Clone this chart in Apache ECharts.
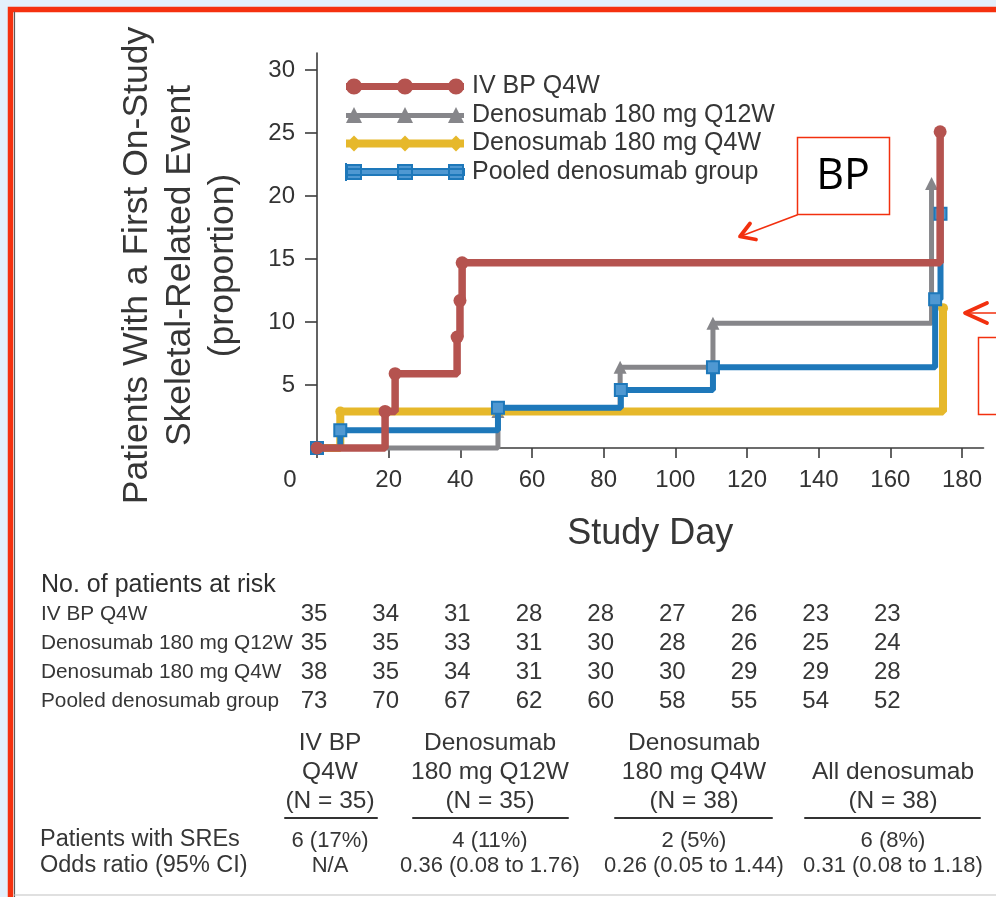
<!DOCTYPE html>
<html>
<head>
<meta charset="utf-8">
<script src="https://cdn.jsdelivr.net/npm/echarts@6/dist/echarts.min.js"></script>
<style>
  html, body { margin: 0; padding: 0; background: #ffffff; }
  #chart { width: 996px; height: 897px; }
</style>
</head>
<body>
<div id="chart"></div>
<script>
// ---- data ----
const seriesNames = ['IV BP Q4W', 'Denosumab 180 mg Q12W', 'Denosumab 180 mg Q4W', 'Pooled denosumab group'];

// cumulative proportion (%) with a first on-study SRE, as [study day, value]
const ivBpQ4w    = [[0, 0], [19, 2.9], [21.8, 5.9], [39.1, 8.8], [39.9, 11.7], [40.5, 14.7], [173.9, 25.1]];
const denoQ12w   = [[0, 0], [50.5, 2.9], [84.6, 6.4], [110.5, 9.9], [171.5, 21.0]];
const denoQ4w    = [[0, 0], [6.5, 2.9], [174.7, 11.1]];
const pooledDeno = [[0, 0], [6.5, 1.4], [50.5, 3.2], [84.8, 4.6], [110.5, 6.4], [172.5, 11.8], [174, 18.6]];

const xTicks = [0, 20, 40, 60, 80, 100, 120, 140, 160, 180];
const yTicks = [5, 10, 15, 20, 25, 30];

// patients at risk by study day
const atRiskDays   = [0, 20, 40, 60, 80, 100, 120, 140, 160];
const atRiskIvBp   = [35, 34, 31, 28, 28, 27, 26, 23, 23];
const atRiskQ12w   = [35, 35, 33, 31, 30, 28, 26, 25, 24];
const atRiskQ4w    = [38, 35, 34, 31, 30, 30, 29, 29, 28];
const atRiskPooled = [73, 70, 67, 62, 60, 58, 55, 54, 52];

// summary table
const groupHeads = [['IV BP', 'Q4W', '(N = 35)'], ['Denosumab', '180 mg Q12W', '(N = 35)'], ['Denosumab', '180 mg Q4W', '(N = 38)'], ['All denosumab', '(N = 38)']];
const sreCounts  = ['6 (17%)', '4 (11%)', '2 (5%)', '6 (8%)'];
const oddsRatios = ['N/A', '0.36 (0.08 to 1.76)', '0.26 (0.05 to 1.44)', '0.31 (0.08 to 1.18)'];

// ---- styling ----
const FONT = '"Liberation Sans", Arial, sans-serif';
const INK = '#363636';
const RED = '#b5534f', GRAY = '#86868a', YELLOW = '#e6b82b', BLUE = '#1e78ba';
const ANNOT = '#f2300f';

// legend glyphs: a band with three markers, 118 x 16
function circ(cx) { return 'M' + (cx - 8) + ',8A8,8 0 1,1 ' + (cx + 8) + ',8A8,8 0 1,1 ' + (cx - 8) + ',8Z'; }
function tri(x) { return 'M' + x + ',16L' + (x + 8) + ',0L' + (x + 16) + ',16Z'; }
function dia(x) { return 'M' + x + ',8L' + (x + 8) + ',0L' + (x + 16) + ',8L' + (x + 8) + ',16Z'; }
function sq(x) { return 'M' + (x + 1) + ',1H' + (x + 15) + 'V15H' + (x + 1) + 'Z'; }
const legendIcons = [
  'path://M0,4.5H118V11.5H0Z' + circ(8) + circ(59) + circ(110),
  'path://M0,6H118V11H0Z' + tri(0) + tri(51) + tri(102),
  'path://M0,4H118V12H0Z' + dia(0) + dia(51) + dia(102) + 'M0,0H0.01V16H0Z',
  'path://M0,5H118V11H0Z' + sq(0) + sq(51) + sq(102) + 'M0,0H0.01V16H0Z'
];

function stepSeries(name, data, color, width, symbol, size, z, item) {
  return {
    name: name, type: 'line', step: 'end', data: data, z: z, clip: false,
    showSymbol: true, symbol: symbol, symbolSize: size,
    lineStyle: { color: color, width: width },
    itemStyle: Object.assign({ color: color }, item || {}),
    emphasis: { disabled: true }
  };
}

const chart = echarts.init(document.getElementById('chart'), null, { renderer: 'canvas' });

const option = {
  animation: false,
  backgroundColor: '#ffffff',
  textStyle: { fontFamily: FONT },
  grid: { left: 317, top: 53, width: 666.5, height: 395, outerBoundsMode: 'none', containLabel: false },
  legend: {
    orient: 'vertical', left: 340, top: 69,
    itemWidth: 118, itemHeight: 16, itemGap: 3.5,
    selectedMode: false,
    data: seriesNames.map((n, i) => ({ name: n, icon: legendIcons[i] })),
    textStyle: { fontFamily: FONT, fontSize: 25, color: INK, lineHeight: 24, padding: [0, 0, 0, 3] }
  },
  xAxis: {
    type: 'value', min: 0, max: 186,
    splitLine: { show: false },
    axisLine: { show: true, lineStyle: { color: '#3c3c3c', width: 1.6 } },
    axisTick: { show: true, length: 10, customValues: xTicks, lineStyle: { color: '#3c3c3c', width: 1.6 } },
    axisLabel: {
      customValues: xTicks, margin: 20, fontFamily: FONT, fontSize: 24, color: '#333',
      formatter: v => (v === 0 ? '{z|0}' : String(v)),
      rich: { z: { padding: [0, 54, 0, 0], fontFamily: FONT, fontSize: 24, color: '#333' } }
    },
    name: 'Study Day', nameLocation: 'middle', nameGap: 68,
    nameTextStyle: { fontFamily: FONT, fontSize: 36, color: INK }
  },
  yAxis: {
    type: 'value', min: 0, max: 31.35,
    splitLine: { show: false },
    axisLine: { show: true, lineStyle: { color: '#3c3c3c', width: 1.6 } },
    axisTick: { show: true, length: 12, customValues: yTicks, lineStyle: { color: '#3c3c3c', width: 1.6 } },
    axisLabel: { customValues: yTicks, margin: 22, fontFamily: FONT, fontSize: 24, color: '#333' },
    name: 'Patients With a First On-Study\nSkeletal-Related Event\n(proportion)',
    nameLocation: 'middle', nameRotate: 90, nameGap: 72,
    nameTextStyle: { fontFamily: FONT, fontSize: 35.5, lineHeight: 43, color: INK, align: 'center', padding: [0, 30, 0, 0] }
  },
  series: [
    stepSeries(seriesNames[0], ivBpQ4w, RED, 7.5, 'circle', 13, 6),
    stepSeries(seriesNames[1], denoQ12w, GRAY, 5, 'triangle', 13, 3),
    stepSeries(seriesNames[2], denoQ4w, YELLOW, 8, 'circle', 10, 4),
    stepSeries(seriesNames[3], pooledDeno, BLUE, 6, 'rect', 12, 5, { borderColor: BLUE, borderWidth: 2, color: '#4f98d2' })
  ]
};

chart.setOption(option);

// ---- page furniture, tables and callouts ----
const px = d => chart.convertToPixel({ xAxisIndex: 0 }, d);
const els = [];

function txt(text, x, y, size, family, align, color, weight) {
  els.push({
    type: 'text', z: 50, silent: true,
    style: { text: text, x: x, y: y, fontSize: size, fontFamily: family, fontWeight: weight || 'normal', fill: color || INK, align: align || 'left', verticalAlign: 'middle' }
  });
}
function seg(points, color, width, z) {
  els.push({ type: 'polyline', z: z || 50, silent: true, shape: { points: points }, style: { stroke: color, lineWidth: width, fill: null, lineJoin: 'round', lineCap: 'round' } });
}

// frame
els.push({ type: 'rect', z: -100, silent: true, shape: { x: 0, y: 0, width: 996, height: 897 }, style: { fill: '#e3f0fb' } });
els.push({ type: 'rect', z: -99, silent: true, shape: { x: 10.5, y: 9.5, width: 1000, height: 900 }, style: { fill: '#ffffff', stroke: '#f5310f', lineWidth: 5.5 } });
seg([[14.5, 12], [14.5, 897]], '#5a5a5a', 1.2, -98);
seg([[15, 895], [996, 895]], '#d6d6d6', 1.5, -98);

// patients at risk
txt('No. of patients at risk', 41, 585, 25, FONT, 'left', '#2e2e2e');
const riskRows = [
  ['IV BP Q4W', atRiskIvBp],
  ['Denosumab 180 mg Q12W', atRiskQ12w],
  ['Denosumab 180 mg Q4W', atRiskQ4w],
  ['Pooled denosumab group', atRiskPooled]
];
const riskY = [614, 643, 672, 701];
riskRows.forEach((row, r) => {
  txt(row[0], 41, riskY[r], 20.8, FONT);
  row[1].forEach((n, i) => txt(String(n), px(atRiskDays[i]) - 3, riskY[r], 24, FONT, 'center'));
});

// SRE summary table
const colX = [330, 490, 694, 893];
const lineSpans = [[285, 377], [413, 568], [615, 772], [805, 980]];
const headY = [743, 772, 801];
groupHeads.forEach((lines, c) => {
  const start = headY.length - lines.length;
  lines.forEach((t, k) => txt(t, colX[c], headY[start + k], 24.5, FONT, 'center'));
  seg([[lineSpans[c][0], 818], [lineSpans[c][1], 818]], '#333333', 2);
  txt(sreCounts[c], colX[c], 841, 22, FONT, 'center');
  txt(oddsRatios[c], colX[c], 866, 22, FONT, 'center');
});
txt('Patients with SREs', 40, 840, 23.5, FONT);
txt('Odds ratio (95% CI)', 40, 866, 23.5, FONT);

// callouts
els.push({ type: 'rect', z: 60, silent: true, shape: { x: 797.5, y: 137.5, width: 92, height: 77 }, style: { fill: '#ffffff', stroke: ANNOT, lineWidth: 1.5 } });
txt('BP', 843, 177, 43, '"Open Sans", "Noto Sans", sans-serif', 'center', '#000000');
els[els.length - 1].z = 61;
seg([[797, 215], [740, 236.5]], ANNOT, 1.6, 61);
seg([[756, 239.5], [740, 236.5], [750, 223.5]], ANNOT, 3.8, 61);
seg([[965, 313], [1000, 313]], ANNOT, 1.6, 61);
seg([[987, 303], [965, 313], [987, 323]], ANNOT, 3.8, 61);
els.push({ type: 'rect', z: 60, silent: true, shape: { x: 978.5, y: 337.5, width: 40, height: 77 }, style: { fill: '#ffffff', stroke: ANNOT, lineWidth: 1.5 } });

chart.setOption({ graphic: { elements: els } });
</script>
</body>
</html>
